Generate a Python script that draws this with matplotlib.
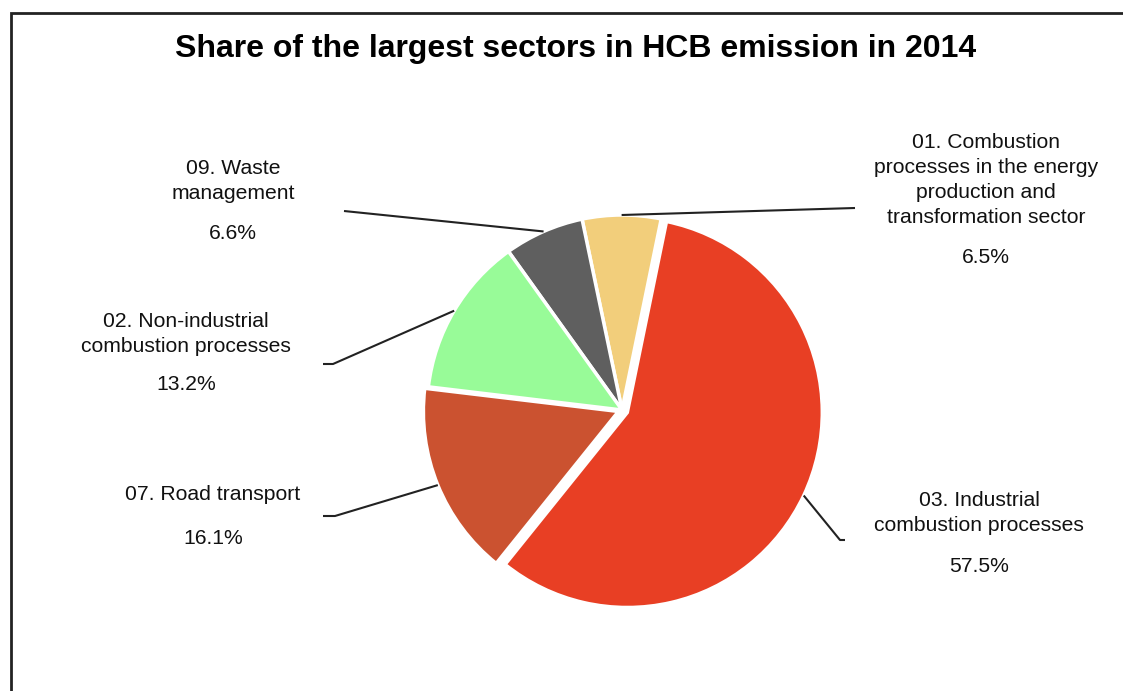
import numpy as np
import matplotlib
matplotlib.use("Agg")
import matplotlib.pyplot as plt
from matplotlib.patches import Rectangle

plt.rcParams['font.family'] = ['Liberation Sans', 'DejaVu Sans']

# data (counterclockwise from the top)
sectors = ['01. Combustion\nprocesses in the energy\nproduction and\ntransformation sector',
           '09. Waste\nmanagement',
           '02. Non-industrial\ncombustion processes',
           '07. Road transport',
           '03. Industrial\ncombustion processes']
shares = [6.5, 6.6, 13.2, 16.1, 57.5]
colors = ['#F2CE7B', '#5F5F5F', '#98FB98', '#CB5230', '#E83F24']
explode = [0, 0, 0, 0.02, 0.03]  # fraction of radius

W, H = 1123, 691
fig = plt.figure(figsize=(W / 100, H / 100), dpi=100)
ax = fig.add_axes([0, 0, 1, 1])


def px(x, y):
    # picture pixel -> data coordinates
    return x, H - y


cx, cy = px(622, 410)
radius = 195
# pie() offsets wedges in data units, so scale the fractions by the radius
wedges, _ = ax.pie(shares, colors=colors, explode=[e * radius for e in explode],
                   startangle=78.4, center=(cx, cy), radius=radius, frame=True,
                   wedgeprops=dict(edgecolor='white', linewidth=2.5))
ax.set_xlim(0, W)
ax.set_ylim(0, H)
ax.set_aspect('equal')
ax.axis('off')

# label blocks: name centre, percent centre, leader outer points (pixels)
name_pos = [(986, 180), (233, 181), (186, 334), (213, 495), (979, 513)]
pct_pos = [(986, 257), (233, 233), (186, 384), (213, 538), (979, 567)]
leader_out = [[(855, 208)],
              [(344, 211)],
              [(323, 364), (333, 364)],
              [(323, 516), (335, 516)],
              [(845, 540), (840, 540)]]

for w, name, pct, npos, ppos, outs in zip(wedges, sectors, shares, name_pos, pct_pos, leader_out):
    mid = np.deg2rad((w.theta1 + w.theta2) / 2)
    wx, wy = w.center
    inner = (wx + w.r * np.cos(mid), wy + w.r * np.sin(mid))
    pts = [px(*p) for p in outs] + [inner]
    ax.plot([p[0] for p in pts], [p[1] for p in pts], color='#222222', lw=1.5,
            solid_capstyle='butt', zorder=3)
    ax.text(*px(*npos), name, ha='center', va='center', fontsize=15.2,
            linespacing=1.38, color='#111111')
    ax.text(*px(*ppos), f'{pct:.1f}%', ha='center', va='center', fontsize=15.2,
            color='#111111')

ax.text(*px(576, 49), 'Share of the largest sectors in HCB emission in 2014',
        ha='center', va='center', fontsize=23, fontweight='bold', color='black')

# outer frame
ax.add_patch(Rectangle(px(10.5, H + 20), W + 40, H + 20 - 13, fill=False,
                       edgecolor='#222222', lw=2, clip_on=False))

fig.savefig('out.png', dpi=100)
